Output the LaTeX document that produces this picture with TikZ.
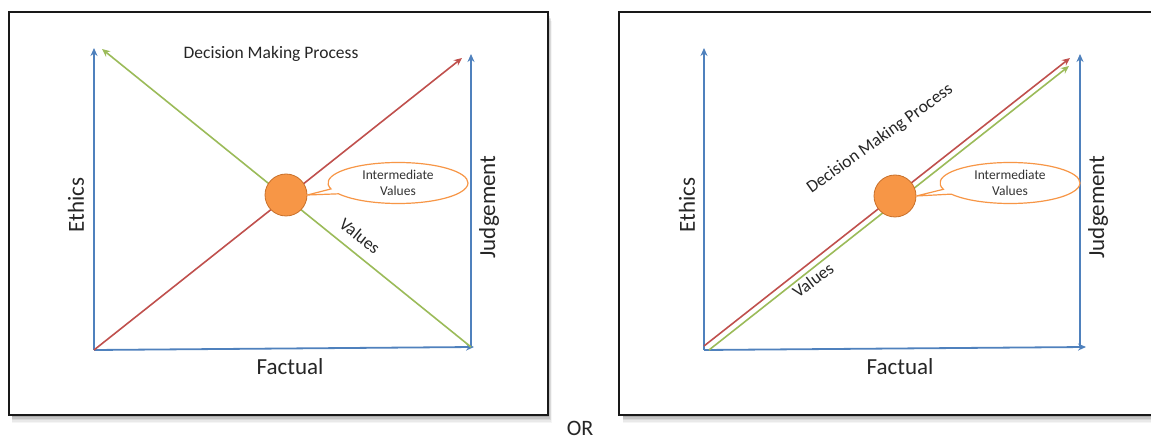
\documentclass[tikz,border=0pt]{standalone}
\usepackage{fontspec}
\setmainfont{Carlito}
\usetikzlibrary{arrows.meta,shapes.callouts,shapes.geometric}
\definecolor{axisblue}{HTML}{4F81BD}
\definecolor{procred}{HTML}{C0504D}
\definecolor{valgreen}{HTML}{9BBB59}
\definecolor{dotfill}{HTML}{F79646}
\definecolor{dotedge}{HTML}{C8702A}
\tikzset{
  frame/.style={draw=black!90, line width=1.6pt, fill=white},
  axis/.style={draw=axisblue, line width=1.8pt, -{Stealth[length=8pt,width=7pt]}},
  proc/.style={draw=procred, line width=1.6pt, -{Stealth[length=8pt,width=7pt]}},
  vals/.style={draw=valgreen, line width=1.6pt, -{Stealth[length=8pt,width=7pt]}},
  dot/.style={circle, fill=dotfill, draw=dotedge, line width=0.8pt, minimum size=42pt, inner sep=0pt},
  bubble/.style={ellipse callout, draw=dotfill, line width=1.2pt, fill=white,
    minimum width=140pt, minimum height=41pt, inner sep=0pt, align=center,
    font=\fontsize{13.5}{16}\selectfont, text=black!80},
  axlabel/.style={font=\fontsize{23}{26}\selectfont, text=black!85},
  small/.style={font=\fontsize{17.5}{20}\selectfont, text=black!85}
}
\begin{document}
\begin{tikzpicture}[x=1pt,y=-1pt]
\useasboundingbox (0,0) rectangle (1151,443);

% soft shadows under the two frames
\foreach \d/\o in {7/0.04,5.5/0.05,4/0.07,2.5/0.09,1/0.12}{
  \fill[black,opacity=\o] (12,14+\d) rectangle (549+\d*0.4,416+\d);
  \fill[black,opacity=\o] (623,14+\d) rectangle (1151,416+\d);
}
\draw[frame] (9,12) rectangle (548,415);
\draw[frame] (619,12) rectangle (1160,415);

% ---------- left chart: crossing arrows ----------
\coordinate (LO) at (94,350);
\coordinate (LT) at (94,48);
\coordinate (LR) at (474,347);
\coordinate (LRT) at (471,54);
\coordinate (LRB) at (471,347);
\coordinate (Lred) at (462,58);
\coordinate (Lgreen) at (102,49);

\draw[axis] (LO) -- (LT);
\draw[axis] (LO) -- (LR);
\draw[axis] (LRB) -- (LRT);
\draw[proc] (LO) -- (Lred);
\draw[vals] (LRB) -- (Lgreen);

\node[dot] (Lc) at (286,195) {};
\node[bubble, callout absolute pointer={(Lc.east)}] (Lb) at (398,183) {Intermediate\\Values};

\node[small] (Ldmp) at (271,54) {Decision Making Process};
\node[small, rotate=-38.6] (Lval) at (360,236) {Values};
\node[axlabel, rotate=90] (Leth) at (76,205) {Ethics};
\node[axlabel, rotate=90] (Ljud) at (489,207) {Judgement};
\node[axlabel] (Lfac) at (290,367) {Factual};

% ---------- right chart: parallel arrows ----------
\coordinate (RO) at (704,350);
\coordinate (RT) at (704,48);
\coordinate (RR) at (1086,347);
\coordinate (RRT) at (1080,54);
\coordinate (RRB) at (1080,347);
\coordinate (Rs1) at (704,346);
\coordinate (Rs2) at (709,350);
\coordinate (Rred) at (1070,58);
\coordinate (Rgreen) at (1069,66);

\draw[axis] (RO) -- (RT);
\draw[axis] (RO) -- (RR);
\draw[axis] (RRB) -- (RRT);
\draw[proc] (Rs1) -- (Rred);
\draw[vals] (Rs2) -- (Rgreen);

\node[dot] (Rc) at (895,196) {};
\node[bubble, callout absolute pointer={(Rc.east)}] (Rb) at (1010,183) {Intermediate\\Values};

\node[small, rotate=35.5] (Rdmp) at (880,139) {Decision Making Process};
\node[small, rotate=37] (Rval) at (813,280) {Values};
\node[axlabel, rotate=90] (Reth) at (687,205) {Ethics};
\node[axlabel, rotate=90] (Rjud) at (1098,207) {Judgement};
\node[axlabel] (Rfac) at (900,367) {Factual};

\node[font=\fontsize{22}{24}\selectfont, text=black!85] (or) at (580,428) {OR};
\end{tikzpicture}
\end{document}
